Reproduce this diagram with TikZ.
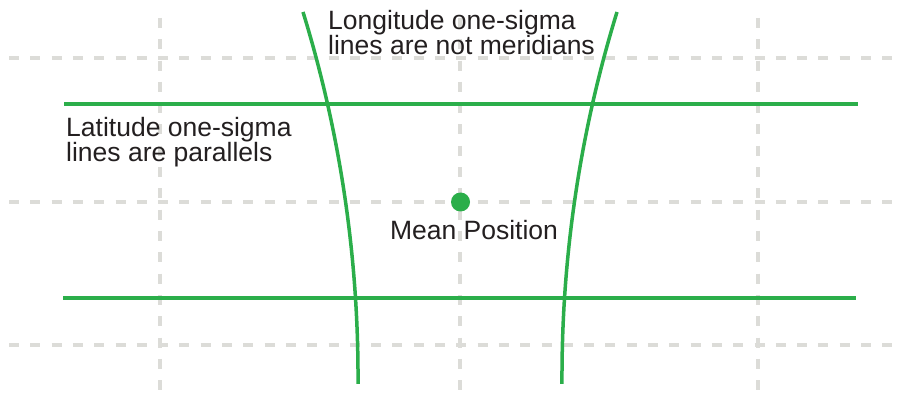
\documentclass[tikz,border=0pt]{standalone}
\usepackage{fontspec}
\setsansfont{Liberation Sans}
\definecolor{sigmagreen}{HTML}{2BAE4A}
\definecolor{gridgray}{HTML}{DCDCD8}
\definecolor{labelink}{HTML}{231F20}

\begin{document}
\begin{tikzpicture}[x=1pt,y=-1pt,font=\sffamily]
  \path[use as bounding box] (0,0) rectangle (899,395);
  \fill[white] (0,0) rectangle (899,395);

  \tikzset{gridline/.style={draw=gridgray,line width=3.3pt,dash pattern=on 10pt off 11.3pt},
    sigmaline/.style={draw=sigmagreen,line width=3.5pt},
    note/.style={text=labelink,font=\sffamily\fontsize{26.5}{25}\selectfont,inner sep=0pt,align=left}}

  \foreach \y in {58,202,345} \draw[gridline] (9,\y) -- (895,\y);
  \foreach \x in {160,460,758} \draw[gridline] (\x,18) -- (\x,395);

  \draw[sigmaline] (64,104) -- (858,104);
  \draw[sigmaline] (63,298) -- (856,298);
  % longitude lines: arcs of one large circle, mirrored about the mean
  \draw[sigmaline] (303,12) arc[start angle=-17.14,end angle=0.31,radius=1239.3];
  \draw[sigmaline] (617,12) arc[start angle=197.14,end angle=179.69,radius=1239.3];

  \node[circle,fill=sigmagreen,minimum size=19pt,inner sep=0pt] (mean) at (460.5,202) {};
  \node[note,anchor=base] (meannote) at (474,240) {Mean Position};
  \node[note,anchor=north west] (latnote) at (66,117) {Latitude one-sigma\\lines are parallels};
  \node[note,anchor=north west] (lonnote) at (328,10) {Longitude one-sigma\\lines are not meridians};
\end{tikzpicture}
\end{document}
